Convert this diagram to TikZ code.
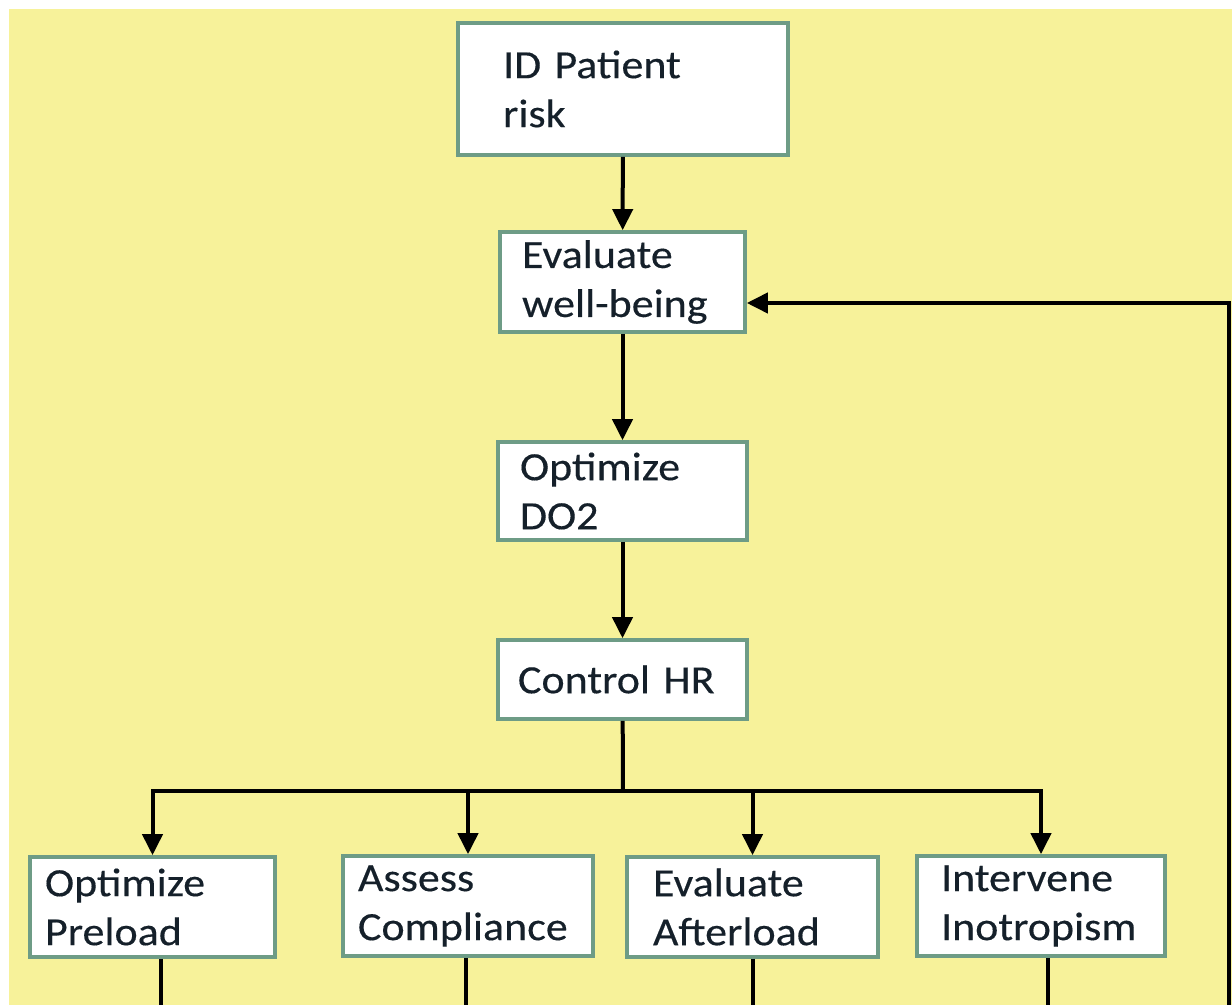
\documentclass[tikz,border=0pt]{standalone}
\usepackage{fontspec}
\usetikzlibrary{arrows.meta}
\newfontfamily\boxfont{Carlito}[FakeStretch=1.1,FakeBold=0.3]
\definecolor{bgyellow}{HTML}{F7F29A}
\definecolor{boxline}{HTML}{6E9C86}
\definecolor{ink}{HTML}{15202A}
\tikzset{
  box/.style={draw=boxline, fill=white, line width=1.8pt, align=left, inner ysep=0pt,
    text=ink, font=\boxfont\fontsize{20}{24.5}\selectfont},
  arr/.style={draw=black, line width=2pt, -{Triangle[length=10.5pt,width=10pt]}},
  link/.style={draw=black, line width=2pt}
}
\begin{document}
\begin{tikzpicture}[x=0.5pt,y=-0.5pt]
  \fill[white] (0,0) rectangle (1232,1005);
  \fill[bgyellow] (9,9) rectangle (1232,1005);
  \useasboundingbox (0,0) rectangle (1232,1005);

  \node[box, text width=120pt, inner xsep=22.5pt, minimum height=66pt] (risk) at (623,89) {\raisebox{-2pt}{ID Patient}\\\raisebox{-2pt}{risk}};
  \node[box, text width=100.5pt, inner xsep=11pt, minimum height=50pt] (well) at (622.5,282) {Evaluate\\well-being};
  \node[box, text width=102.5pt, inner xsep=11pt, minimum height=49pt] (do2) at (622.5,491) {Optimize\\DO2};
  \node[box, text width=104.5pt, inner xsep=10pt, minimum height=39.5pt] (ctrl) at (622.5,679.5) {Control HR};

  \node[box, text width=107.5pt, inner xsep=7.5pt, minimum height=50pt] (pre) at (152.5,907) {Optimize\\Preload};
  \node[box, text width=110pt, inner xsep=7.5pt, minimum height=50pt] (comp) at (468,906) {Assess\\Compliance};
  \node[box, text width=99.5pt, inner xsep=13pt, minimum height=50pt] (aft) at (752.5,907) {Evaluate\\Afterload};
  \node[box, text width=100pt, inner xsep=12pt, minimum height=50pt] (ino) at (1041,906) {Intervene\\Inotropism};

  \coordinate (split) at (623,791);
  \coordinate (edge) at (0,1005);
  \coordinate (fbot) at (1229,1005);

  \draw[arr] (risk) -- (well);
  \draw[arr] (well) -- (do2);
  \draw[arr] (do2) -- (ctrl);
  \draw[link] (ctrl) -- (split);
  \foreach \n in {pre,comp,aft,ino}
    \draw[arr] (split) -| (\n.north);
  \foreach \n/\dx in {pre/4pt,comp/-1pt,aft/0pt,ino/3.5pt}
    \draw[link] ([xshift=\dx]\n.south) -- ([xshift=\dx]\n.south |- edge);
  \draw[arr] (fbot) |- ([yshift=-10.5pt]well.east);
\end{tikzpicture}
\end{document}
